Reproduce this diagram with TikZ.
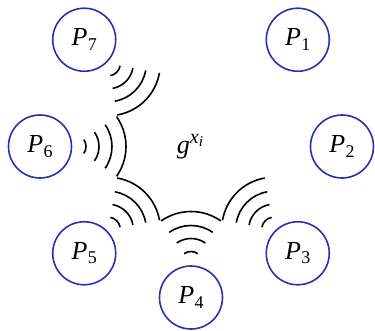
\documentclass[tikz,border=0pt]{standalone}
\usepackage{fontspec}
\setmainfont{Liberation Serif}
\definecolor{nodeblue}{RGB}{45,45,180}
\newcommand\plab[1]{\textit{P}\kern0.3pt\raisebox{-4.5pt}{\fontsize{18}{18}\selectfont #1}}
\begin{document}
\begin{tikzpicture}[x=1pt,y=1pt,
  pnode/.style={circle,draw=nodeblue,line width=1.6pt,minimum size=63pt,inner sep=0pt,
    font=\fontsize{26}{30}\selectfont},
  wave/.style={line width=1.6pt,black}]
\useasboundingbox (-191,-183.5) rectangle (184,146.5);
\node[pnode] (p1) at (45:151) {\plab{1}};
\node[pnode] (p2) at (0:151) {\plab{2}};
\node[pnode] (p3) at (-45:151) {\plab{3}};
\node[pnode] (p4) at (-90:151) {\plab{4}};
\node[pnode] (p5) at (-135:151) {\plab{5}};
\node[pnode] (p6) at (180:151) {\plab{6}};
\node[pnode] (p7) at (135:151) {\plab{7}};
\node[font=\fontsize{26}{30}\selectfont] (g) at (-1,0) {\textit{g}\raisebox{10pt}{\fontsize{20}{20}\selectfont\textit{x}\raisebox{-3.5pt}{\fontsize{15}{15}\selectfont\textit{i}}}};
\foreach \n/\d in {p3/135,p4/90,p5/45,p6/0,p7/-45}{
  \foreach \r in {12,25,38,52}{
    \draw[wave] (\n.center) ++(\d:34) ++(\d-35:\r) arc[start angle=\d-35,end angle=\d+35,radius=\r];
  }
}
\end{tikzpicture}
\end{document}
